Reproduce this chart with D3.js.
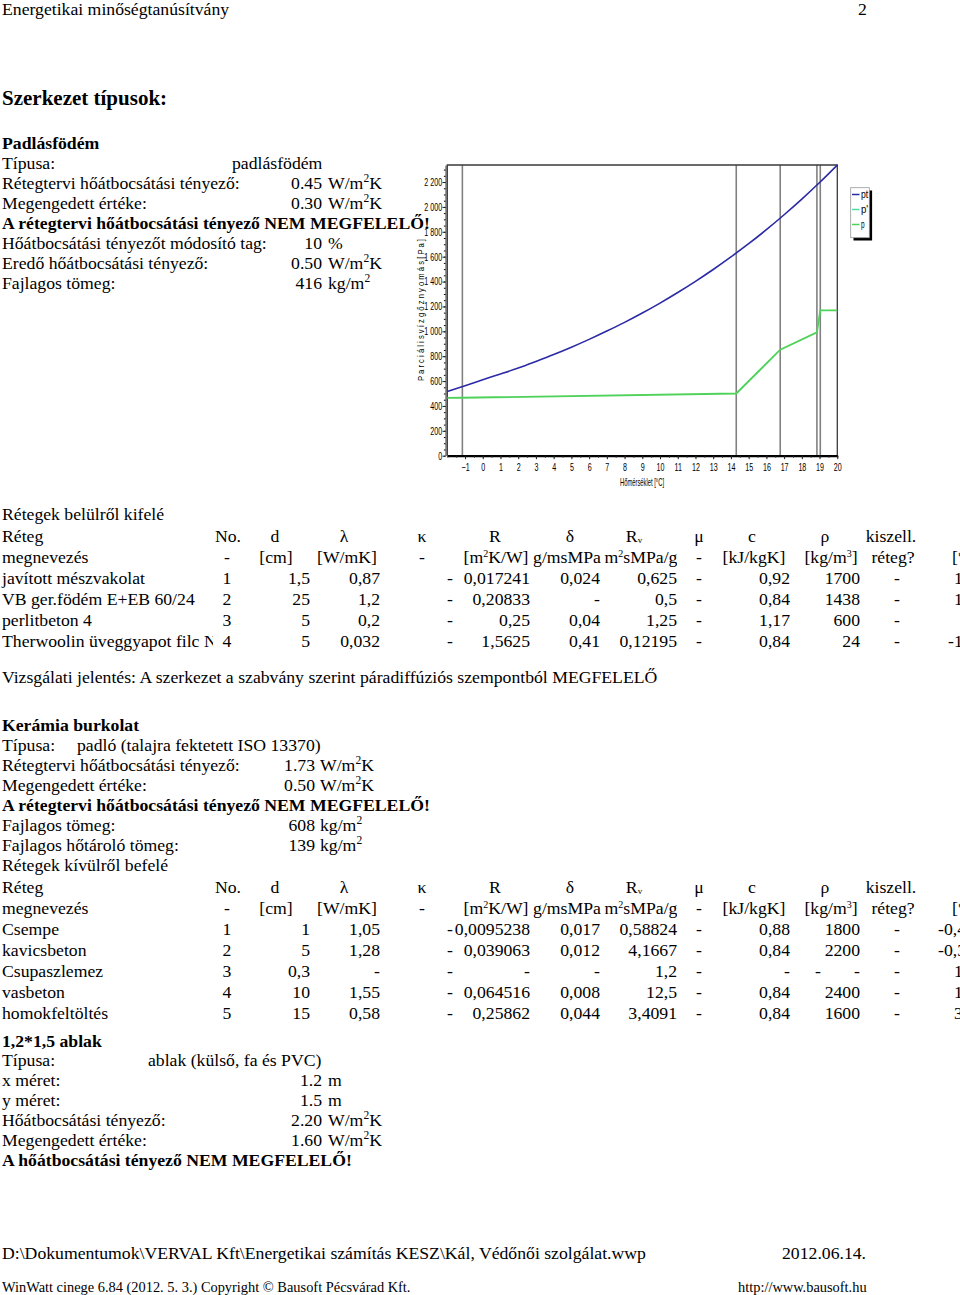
<!DOCTYPE html>
<html><head><meta charset="utf-8">
<script src="https://cdn.jsdelivr.net/npm/d3@7"></script>
<style>
body{margin:0;background:#fff}
svg{display:block}
text{font-family:"Liberation Serif","Times New Roman",serif;fill:#000}
.ct text{font-family:"Liberation Sans",Arial,sans-serif}
</style>
</head><body>
<svg id="page" width="960" height="1295"></svg>
<script>
// ---------------- chart data ----------------
const tempX = [-2,-1,0,1,2,3,4,5,6,7,8,9,10,11,12,13,14,15,16,17,18,19,20];
const ptValues = [517,563,611,657,705,758,813,872,935,1002,1072,1147,1227,1312,1402,1497,1598,1704,1817,1937,2063,2196,2337];
const pTemps = [-2,-1.15,14.3,16.78,18.85,19.04,20];
const pValues = [465,466,500,852,992,1168,1168];
const layerBounds = [-1.15,14.3,16.78,18.85,19.04];
const xTicks = d3.range(-1,21);
const yTicks = d3.range(0,2201,200);
const legendNames = ["pt","p'","p"];
const legendColors = ["#2a2aa6","#4fdca6","#4fd25a"];

// ---------------- table data ----------------
const table1Rows = [
  ["javított mészvakolat","1","1,5","0,87","-","0,017241","0,024","0,625","-","0,92","1700","-","1"],
  ["VB ger.födém E+EB 60/24","2","25","1,2","-","0,20833","-","0,5","-","0,84","1438","-","1"],
  ["perlitbeton 4","3","5","0,2","-","0,25","0,04","1,25","-","1,17","600","-",""],
  ["Therwoolin üveggyapot filc N","4","5","0,032","-","1,5625","0,41","0,12195","-","0,84","24","-","-1"]
];
const table2Rows = [
  ["Csempe","1","1","1,05","-","0,0095238","0,017","0,58824","-","0,88","1800","-","-0,4"],
  ["kavicsbeton","2","5","1,28","-","0,039063","0,012","4,1667","-","0,84","2200","-","-0,3"],
  ["Csupaszlemez","3","0,3","-","-","-","-","1,2","-","-","-","-","1"],
  ["vasbeton","4","10","1,55","-","0,064516","0,008","12,5","-","0,84","2400","-","1"],
  ["homokfeltöltés","5","15","0,58","-","0,25862","0,044","3,4091","-","0,84","1600","-","3"]
];
const headRow1 = ["Réteg","No.","d","λ","κ","R","δ","R_v","μ","c","ρ","kiszell."];
const headRow2 = ["megnevezés","-","[cm]","[W/mK]","-","[m^2K/W]","g/msMPa","m^2sMPa/g","-","[kJ/kgK]","[kg/m^3]","réteg?","[°"];

const FS = 17.7;
const svg = d3.select("#page");
svg.append("rect").attr("width",960).attr("height",1295).attr("fill","#fff");
const defs = svg.append("defs");
defs.append("clipPath").attr("id","nameclip").append("rect").attr("x",0).attr("y",0).attr("width",213).attr("height",1295);
defs.append("clipPath").attr("id","gclip1").append("rect").attr("x",530).attr("y",0).attr("width",73).attr("height",1295);
defs.append("clipPath").attr("id","gclip2").append("rect").attr("x",603).attr("y",0).attr("width",74).attr("height",1295);
defs.append("clipPath").attr("id","legclip").append("rect").attr("x",850).attr("y",186).attr("width",19).attr("height",52);

// ---------------- chart ----------------
const X0=447.3, X1=837.3, Y0=455.7, Y1=165;
const x = d3.scaleLinear().domain([-2,20]).range([X0,X1]);
const y = d3.scaleLinear().domain([0,2337]).range([Y0,Y1]);
const ct = svg.append("g").attr("class","ct");
const SX = 0.68;

ct.append("rect").attr("x",X0).attr("y",Y1).attr("width",X1-X0).attr("height",Y0-Y1).attr("fill","#fff");
ct.selectAll("line.lb").data(layerBounds).join("line").attr("class","lb")
  .attr("x1",d=>x(d)).attr("x2",d=>x(d)).attr("y1",Y1).attr("y2",Y0)
  .attr("stroke","#808080").attr("stroke-width",1.6);
// frame
ct.append("path").attr("d",`M${X0},${Y0}V${Y1}H${X1}V${Y0}`).attr("fill","none").attr("stroke","#3a3a3a").attr("stroke-width",1.3);

// y axis minor
const yMinor = d3.axisLeft(y).tickValues(d3.range(0,2337,50)).tickSize(1.6).tickSizeOuter(0).tickFormat("");
ct.append("g").attr("transform",`translate(${X0-1.8},0)`).call(yMinor).call(g=>g.select(".domain").attr("stroke","#222").attr("stroke-width",0.9));
const fmtY = d => d3.format(",")(d).replace(","," ");
const yAxis = d3.axisLeft(y).tickValues(yTicks).tickSize(3).tickSizeOuter(0).tickFormat(fmtY);
ct.append("g").attr("transform",`translate(${X0-1.8},0)`).call(yAxis)
  .call(g=>g.select(".domain").remove())
  .call(g=>g.selectAll("line").attr("stroke","#222"))
  .call(g=>g.selectAll("text").attr("font-size",10.5).attr("fill","#222").attr("font-family","Liberation Sans, Arial, sans-serif")
      .attr("x",-3.3/SX).attr("transform",`scale(${SX},1)`));

// x axis
const xMinor = d3.axisBottom(x).tickValues(d3.range(-2,20.01,0.5)).tickSize(2).tickSizeOuter(0).tickFormat("");
ct.append("g").attr("transform",`translate(0,${Y0})`).call(xMinor)
  .call(g=>g.select(".domain").attr("stroke","#000").attr("stroke-width",2.2))
  .call(g=>g.selectAll("line").attr("stroke","#222"));
const xAxis = d3.axisBottom(x).tickValues(xTicks).tickSize(3.5).tickSizeOuter(0).tickFormat(d3.format("d"));
ct.append("g").attr("transform",`translate(0,${Y0})`).call(xAxis)
  .call(g=>g.select(".domain").remove())
  .call(g=>g.selectAll("line").attr("stroke","#222"))
  .call(g=>g.selectAll("text").attr("font-size",10.5).attr("fill","#222").attr("font-family","Liberation Sans, Arial, sans-serif")
      .attr("y",7.5).attr("x",0).attr("transform",`scale(${SX},1)`));

// lines
const ptData = tempX.map((t,i)=>({t,v:ptValues[i]}));
const pData = pTemps.map((t,i)=>({t,v:pValues[i]}));
ct.append("path").datum(ptData).attr("fill","none").attr("stroke",legendColors[0]).attr("stroke-width",1.6)
  .attr("d",d3.line().x(d=>x(d.t)).y(d=>y(d.v)).curve(d3.curveMonotoneX));
ct.append("path").datum(pData).attr("fill","none").attr("stroke",legendColors[2]).attr("stroke-width",1.8)
  .attr("d",d3.line().x(d=>x(d.t)).y(d=>y(d.v)));

// axis titles
ct.append("text").attr("transform","translate(424,381) rotate(-90)").attr("font-size",9.5).attr("fill","#222")
  .attr("textLength",142).attr("lengthAdjust","spacingAndGlyphs").text("P a r c i á l i s   v í z g ő z n y o m á s   [ P a ]");
ct.append("text").attr("x",620).attr("y",486).attr("font-size",10.5).attr("fill","#222")
  .attr("textLength",44).attr("lengthAdjust","spacingAndGlyphs").text("Hőmérséklet [°C]");

// legend
ct.append("rect").attr("x",853.5).attr("y",190.5).attr("width",18.6).attr("height",50).attr("fill","#000");
ct.append("rect").attr("x",850.7).attr("y",187.7).attr("width",18.6).attr("height",50).attr("fill","#fff").attr("stroke","#999").attr("stroke-width",0.8);
const lg = ct.append("g").attr("clip-path","url(#legclip)");
legendNames.forEach((n,i)=>{
  const yy = 194.5 + i*15;
  lg.append("line").attr("x1",852).attr("x2",859.5).attr("y1",yy).attr("y2",yy).attr("stroke",legendColors[i]).attr("stroke-width",1.5);
  lg.append("text").attr("x",861).attr("y",yy+3.5).attr("font-size",10).attr("fill","#222")
    .attr("textLength",n.length*3.6).attr("lengthAdjust","spacingAndGlyphs").text(n);
});

// ---------------- page text ----------------
function txt(xx, yy, s, o={}) {
  const t = svg.append("text").attr("x",xx).attr("y",yy).attr("font-size",o.size||FS)
    .attr("text-anchor",o.anchor||"start");
  if (o.bold) t.attr("font-weight","bold");
  if (o.clip) t.attr("clip-path",o.clip);
  if (o.fill) t.attr("fill",o.fill);
  const parts = s.split(/(\^\S|_\S)/);
  let shift = 0;
  parts.forEach(p=>{
    if (!p) return;
    if (p.length===2 && p[0]==='^') { const up = o.supUp||7; t.append("tspan").attr("font-size",o.supSize||11.5).attr("dy",-up-shift).text(p[1]); shift=-up; }
    else if (p.length===2 && p[0]==='_') { t.append("tspan").attr("font-size",9).attr("dy",1-shift).text(p[1]); shift=1; }
    else { t.append("tspan").attr("dy",-shift).text(p); shift=0; }
  });
  return t;
}

txt(2,15,"Energetikai minőségtanúsítvány");
txt(858,15,"2");
txt(2,105,"Szerkezet típusok:",{bold:true,size:21});

// Section 1
txt(2,149,"Padlásfödém",{bold:true});
txt(2,169,"Típusa:"); txt(232,169,"padlásfödém");
const s1 = [
  [189,"Rétegtervi hőátbocsátási tényező:","0.45","W/m^2K"],
  [209,"Megengedett értéke:","0.30","W/m^2K"],
  [249,"Hőátbocsátási tényezőt módosító tag:","10","%"],
  [269,"Eredő hőátbocsátási tényező:","0.50","W/m^2K"],
  [289,"Fajlagos tömeg:","416","kg/m^2"]
];
s1.forEach(r=>{ txt(2,r[0],r[1]); txt(322,r[0],r[2],{anchor:"end"}); txt(328,r[0],r[3]); });
txt(2,229,"A rétegtervi hőátbocsátási tényező NEM MEGFELELŐ!",{bold:true});

txt(2,520,"Rétegek belülről kifelé");

// table layout
function drawTable(y0, rows) {
  const hx = [[2,"start"],[215,"start"],[275,"middle"],[344,"middle"],[422,"middle"],[495,"middle"],[570,"middle"],[634,"middle"],[699,"middle"],[752,"middle"],[825,"middle"],[891,"middle"]];
  headRow1.forEach((h,i)=>txt(hx[i][0],y0,h,{anchor:hx[i][1]}));
  const h2x = [[2,"start"],[227,"middle"],[276,"middle"],[347,"middle"],[422,"middle"],[496,"middle"],[567,"middle"],[641,"middle"],[699,"middle"],[754,"middle"],[831,"middle"],[893,"middle"],[952,"start"]];
  headRow2.forEach((h,i)=>{
    const o = {anchor:h2x[i][1], supSize:10, supUp:6};
    if (i===6) o.clip="url(#gclip1)";
    if (i===7) o.clip="url(#gclip2)";
    txt(h2x[i][0],y0+21,h,o);
  });
  const dx = [[2,"start"],[227,"middle"],[310,"end"],[380,"end"],[450,"middle"],[530,"end"],[600,"end"],[677,"end"],[699,"middle"],[790,"end"],[860,"end"],[897,"middle"],[954,"start"]];
  rows.forEach((r,ri)=>{
    const yy = y0 + 42 + ri*21;
    r.forEach((v,i)=>{
      if (!v) return;
      const o = {anchor:dx[i][1]};
      if (i===0) o.clip="url(#nameclip)";
      let xx = dx[i][0];
      if (i===12 && v.startsWith("-0")) xx = 938;
      else if (i===12 && v.startsWith("-")) xx = 948;
      txt(xx,yy,v,o);
    });
  });
}
drawTable(542, table1Rows);
// extra dash shown in the Csupaszlemez row of table 2
const extraDash = [[818, 2]];

txt(2,683,"Vizsgálati jelentés: A szerkezet a szabvány szerint páradiffúziós szempontból MEGFELELŐ");

// Section 2
txt(2,731,"Kerámia burkolat",{bold:true});
txt(2,751,"Típusa:"); txt(77,751,"padló (talajra fektetett ISO 13370)");
const s2 = [
  [771,"Rétegtervi hőátbocsátási tényező:","1.73","W/m^2K"],
  [791,"Megengedett értéke:","0.50","W/m^2K"],
  [831,"Fajlagos tömeg:","608","kg/m^2"],
  [851,"Fajlagos hőtároló tömeg:","139","kg/m^2"]
];
s2.forEach(r=>{ txt(2,r[0],r[1]); txt(315,r[0],r[2],{anchor:"end"}); txt(320,r[0],r[3]); });
txt(2,811,"A rétegtervi hőátbocsátási tényező NEM MEGFELELŐ!",{bold:true});
txt(2,871,"Rétegek kívülről befelé");
drawTable(893, table2Rows);
extraDash.forEach(([xx,ri])=>txt(xx,893+42+ri*21,"-",{anchor:"middle"}));

// Section 3
txt(2,1047,"1,2*1,5 ablak",{bold:true});
txt(2,1066,"Típusa:"); txt(148,1066,"ablak (külső, fa és PVC)");
const s3 = [
  [1086,"x méret:","1.2","m"],
  [1106,"y méret:","1.5","m"],
  [1126,"Hőátbocsátási tényező:","2.20","W/m^2K"],
  [1146,"Megengedett értéke:","1.60","W/m^2K"]
];
s3.forEach(r=>{ txt(2,r[0],r[1]); txt(322,r[0],r[2],{anchor:"end"}); txt(328,r[0],r[3]); });
txt(2,1166,"A hőátbocsátási tényező NEM MEGFELELŐ!",{bold:true});

// footer
txt(2,1259,"D:\\Dokumentumok\\VERVAL Kft\\Energetikai számítás KESZ\\Kál, Védőnői szolgálat.wwp");
txt(782,1259,"2012.06.14.");
txt(2,1292,"WinWatt cinege 6.84 (2012. 5. 3.) Copyright © Bausoft Pécsvárad Kft.",{size:14.4});
txt(738,1292,"http://www.bausoft.hu",{size:14.4});
</script>
</body></html>
